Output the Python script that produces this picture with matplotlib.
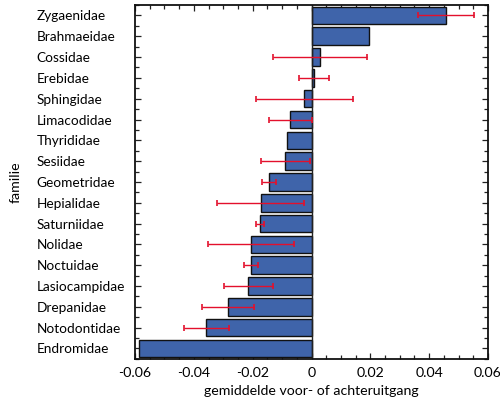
import matplotlib
matplotlib.use("Agg")
import matplotlib.pyplot as plt
import numpy as np
from matplotlib.ticker import MultipleLocator

families = ["Zygaenidae", "Brahmaeidae", "Cossidae", "Erebidae", "Sphingidae",
            "Limacodidae", "Thyrididae", "Sesiidae", "Geometridae", "Hepialidae",
            "Saturniidae", "Nolidae", "Noctuidae", "Lasiocampidae", "Drepanidae",
            "Notodontidae", "Endromidae"]
values = [0.0456, 0.0197, 0.0028, 0.0008, -0.0025, -0.0073, -0.0084, -0.0090,
          -0.0145, -0.0173, -0.0176, -0.0205, -0.0207, -0.0217, -0.0285,
          -0.0357, -0.0587]
err_low = [0.0362, None, -0.0132, -0.0044, -0.0188, -0.0145, None, -0.0171,
           -0.0168, -0.0322, -0.0188, -0.0353, -0.0231, -0.0299, -0.0373,
           -0.0435, None]
err_high = [0.0552, None, 0.0190, 0.0060, 0.0141, 0.0000, None, -0.0006,
            -0.0121, -0.0026, -0.0163, -0.0059, -0.0183, -0.0130, -0.0195,
            -0.0279, None]
xticks = [-0.06, -0.04, -0.02, 0, 0.02, 0.04, 0.06]
xticklabels = ["-0.06", "-0.04", "-0.02", "0", "0.02", "0.04", "0.06"]

plt.rcParams['font.family'] = ['Lato', 'DejaVu Sans']

fig = plt.figure(figsize=(5.0, 4.01), dpi=100)
ax = fig.add_axes([0.27, 0.105, 0.706, 0.8825])

n = len(families)
y = np.arange(n)[::-1]
ax.barh(y, values, height=0.84, color='#3f64aa', edgecolor='#111111',
        linewidth=1.0, zorder=2)

for yi, v, lo, hi in zip(y, values, err_low, err_high):
    if lo is None:
        continue
    ax.errorbar([v], [yi], xerr=[[v - lo], [hi - v]], fmt='none',
                ecolor='#e3102c', elinewidth=1.0, capsize=2.2, capthick=1.2,
                zorder=3)

ax.axvline(0, color='#222222', linewidth=1.0, zorder=2.5)

ax.set_xlim(-0.06, 0.06)
ax.set_ylim(-0.5, n - 0.5)
ax.set_xticks(xticks)
ax.set_xticklabels(xticklabels, fontsize=10.2)
ax.xaxis.set_minor_locator(MultipleLocator(0.005))
ax.set_yticks(y)
ax.set_yticklabels(families, fontsize=9.8, ha='left')
ax.set_yticks(np.arange(n + 1) - 0.5, minor=True)

ax.tick_params(axis='both', which='both', direction='in', top=True, right=True,
               color='#222222')
ax.tick_params(axis='both', which='major', length=4, width=0.9)
ax.tick_params(axis='both', which='minor', length=3, width=0.9)
ax.tick_params(axis='x', pad=6)
ax.tick_params(axis='y', pad=71)

for s in ax.spines.values():
    s.set_linewidth(1.3)
    s.set_color('#111111')

ax.set_xlabel("gemiddelde voor- of achteruitgang", fontsize=10.2, labelpad=4)
ax.set_ylabel("familie", fontsize=10.2)
ax.yaxis.set_label_coords(-0.32, 0.5)

fig.savefig("out.png", dpi=100)
